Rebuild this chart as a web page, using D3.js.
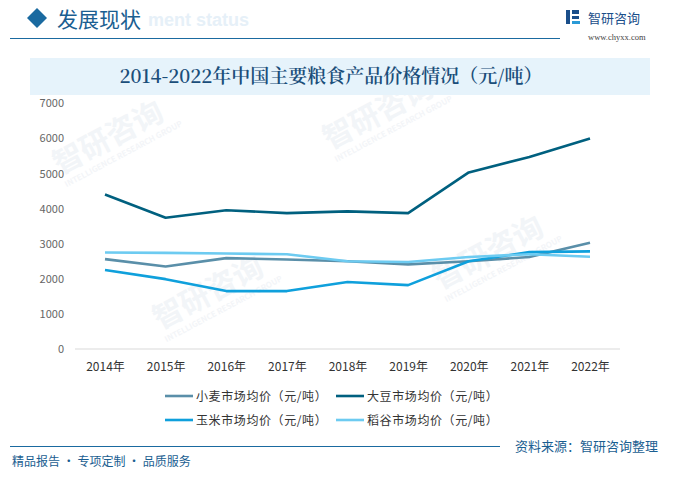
<!DOCTYPE html>
<html><head><meta charset="utf-8">
<script src="https://cdn.jsdelivr.net/npm/d3@7"></script>
<style>body{margin:0;background:#fff;}svg{display:block;}</style>
</head><body>
<svg id="c" width="674" height="479"></svg>
<script>
const years = ["2014年","2015年","2016年","2017年","2018年","2019年","2020年","2021年","2022年"];
const wheat = [2560, 2350, 2590, 2550, 2500, 2410, 2500, 2620, 3030];
const soybean = [4400, 3740, 3955, 3870, 3920, 3870, 5030, 5470, 6000];
const corn = [2250, 1990, 1650, 1650, 1910, 1820, 2500, 2760, 2780];
const rice = [2750, 2740, 2720, 2700, 2500, 2480, 2620, 2700, 2630];
const yTicks = [0, 1000, 2000, 3000, 4000, 5000, 6000, 7000];
const seriesNames = ["小麦市场均价（元/吨）","大豆市场均价（元/吨）","玉米市场均价（元/吨）","稻谷市场均价（元/吨）"];
const colors = ["#5a8fa9","#00607f","#0fa0dc","#6dcbf1"];
const seriesData = [wheat, soybean, corn, rice];

const svg = d3.select("#c");
const font = "'Noto Sans CJK SC','Noto Sans',sans-serif";

// faint watermarks (kept inside the picture)
const wm = svg.append("g").attr("font-family",font).attr("font-weight","bold");
[[60,175],[330,150],[440,290],[160,330]].forEach(([x,y])=>{
  const g = wm.append("g").attr("transform",`translate(${x},${y}) rotate(-28)`);
  g.append("text").attr("font-size",30).attr("fill","#f2f5f8").text("智研咨询");
  g.append("text").attr("y",14).attr("font-size",8).attr("fill","#f3f5f8").text("INTELLIGENCE RESEARCH GROUP");
});

// header
svg.append("path").attr("d","M37,8 L47,18 L37,28 L27,18 Z").attr("fill","#1a6aa0");
svg.append("text").attr("x",148).attr("y",26).attr("font-size",18).attr("font-weight","bold")
  .attr("fill","#e6f0f8").attr("font-family","'Liberation Sans',sans-serif").text("ment status");
svg.append("text").attr("x",57).attr("y",27).attr("font-size",21).attr("fill","#1a5e91")
  .attr("font-family",font).text("发展现状");
svg.append("line").attr("x1",10).attr("x2",560).attr("y1",38.5).attr("y2",38.5).attr("stroke","#1a6aa0").attr("stroke-width",1.2);
// logo
const lg = svg.append("g");
lg.append("rect").attr("x",566).attr("y",10).attr("width",4).attr("height",14).attr("fill","#1a4e8a");
lg.append("rect").attr("x",572).attr("y",10).attr("width",7).attr("height",4).attr("fill","#1a4e8a");
lg.append("rect").attr("x",572).attr("y",16).attr("width",7).attr("height",3).attr("fill","#1a4e8a");
lg.append("rect").attr("x",572).attr("y",21).attr("width",8).attr("height",3).attr("fill","#2a9ad6");
svg.append("text").attr("x",588).attr("y",23).attr("font-size",13).attr("fill","#1a4e8a").attr("font-family",font).text("智研咨询");
svg.append("text").attr("x",588).attr("y",40).attr("font-size",8.5).attr("fill","#444").attr("font-family","'Liberation Serif',serif").text("www.chyxx.com");

// title
svg.append("rect").attr("x",30).attr("y",58).attr("width",620).attr("height",37).attr("fill","#e6f3fb");
svg.append("text").attr("x",331).attr("y",83).attr("text-anchor","middle").attr("font-size",19)
  .attr("fill","#1a4e7a").attr("font-family","'Noto Serif CJK SC','Noto Sans CJK SC',serif").attr("font-weight","600")
  .text("2014-2022年中国主要粮食产品价格情况（元/吨）");

// scales
const x = d3.scalePoint().domain(years).range([105, 590]);
const y = d3.scaleLinear().domain([0,7000]).range([349, 103.3]);

// y axis
const ya = svg.append("g").attr("transform","translate(68,0)")
  .call(d3.axisLeft(y).tickValues(yTicks).tickFormat(d3.format("d")).tickSize(0).tickPadding(4));
ya.select(".domain").remove();
ya.selectAll("text").attr("font-size",11).attr("fill","#666").attr("font-family",font);

// baseline
svg.append("line").attr("x1",75).attr("x2",620).attr("y1",y(0)).attr("y2",y(0)).attr("stroke","#d9d9d9");

// x axis
const xa = svg.append("g").attr("transform",`translate(0,${y(0)})`)
  .call(d3.axisBottom(x).tickSize(0).tickPadding(13));
xa.select(".domain").remove();
xa.selectAll("text").attr("font-size",12).attr("fill","#333").attr("font-family",font);

// lines
const line = d3.line().x((d,i)=>x(years[i])).y(d=>y(d));
seriesData.forEach((s,i)=>{
  svg.append("path").datum(s).attr("d",line).attr("fill","none")
    .attr("stroke",colors[i]).attr("stroke-width",2.6).attr("stroke-linejoin","round");
});

// legend
const legPos = [[165,396],[336,396],[165,420],[336,420]];
seriesNames.forEach((n,i)=>{
  const [lx,ly] = legPos[i];
  svg.append("line").attr("x1",lx).attr("x2",lx+28).attr("y1",ly).attr("y2",ly).attr("stroke",colors[i]).attr("stroke-width",2.6);
  svg.append("text").attr("x",lx+31).attr("y",ly+4.5).attr("font-size",12).attr("letter-spacing",0.6)
    .attr("fill","#333").attr("font-family",font).text(n);
});

// footer
svg.append("line").attr("x1",10).attr("x2",500).attr("y1",446.5).attr("y2",446.5).attr("stroke","#1a6aa0").attr("stroke-width",1.2);
svg.append("text").attr("x",12).attr("y",466).attr("font-size",12).attr("fill","#1a5e91").attr("font-family",font).text("精品报告 · 专项定制 · 品质服务");
svg.append("text").attr("x",658).attr("y",451).attr("text-anchor","end").attr("font-size",13).attr("fill","#1a5e91").attr("font-family",font).text("资料来源：智研咨询整理");
</script>
</body></html>
